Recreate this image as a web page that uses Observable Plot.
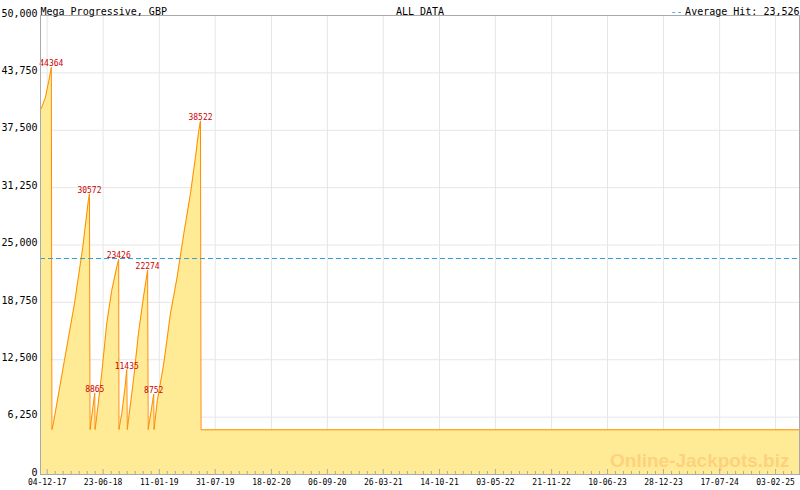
<!DOCTYPE html>
<html>
<head>
<meta charset="utf-8">
<script src="https://cdn.jsdelivr.net/npm/d3@7"></script>
<script src="https://cdn.jsdelivr.net/npm/@observablehq/plot@0.6"></script>
<style>
  html, body { margin: 0; padding: 0; background: #fff; }
  #chart { width: 800px; height: 490px; }
</style>
</head>
<body>
<div id="chart"></div>
<script>
// ---- data ----
const titleText = "Mega Progressive, GBP";
const rangeText = "ALL DATA";
const avgLabel = "Average Hit: 23,526";
const avgHit = 23526;
const watermark = "Online-Jackpots.biz";

const xLabels = ["04-12-17","23-06-18","11-01-19","31-07-19","18-02-20","06-09-20","26-03-21",
                 "14-10-21","03-05-22","21-11-22","10-06-23","28-12-23","17-07-24","03-02-25"];
const yTicks = [0, 6250, 12500, 18750, 25000, 31250, 37500, 43750, 50000];
const xDomain = ["2017-11-10", "2025-04-30"];

const dates = [
  "2017-11-13","2017-11-28","2017-12-10","2017-12-19",
  "2017-12-21","2017-12-26","2018-02-04","2018-03-12","2018-04-11","2018-05-01","2018-05-05",
  "2018-05-07","2018-05-24",
  "2018-05-25","2018-05-28","2018-06-18","2018-07-06","2018-07-24","2018-08-11","2018-08-18",
  "2018-08-19","2018-08-29","2018-09-10","2018-09-16",
  "2018-09-18","2018-09-22","2018-10-10","2018-10-28","2018-11-15","2018-11-29","2018-11-30",
  "2018-12-02","2018-12-12","2018-12-22",
  "2018-12-23","2019-01-04","2019-01-27","2019-02-20","2019-03-16","2019-04-09","2019-05-03",
  "2019-05-21","2019-06-02","2019-06-08",
  "2019-06-10","2025-04-30"
];
const values = [
  39870, 41100, 42920, 44364,
  4900, 5520, 12420, 18590, 24760, 29850, 30572,
  4900, 8865,
  4900, 5520, 10970, 16420, 20040, 22580, 23426,
  4900, 6610, 9510, 11435,
  4900, 5880, 10240, 15330, 19310, 22040, 22274,
  4900, 6800, 8752,
  4900, 8060, 12060, 17500, 21490, 26220, 30580,
  34560, 37470, 38522,
  4870, 4870
];

// ---- derived tables ----
const series = dates.map((d, i) => ({date: new Date(d), value: values[i]}));
const peaks = series.filter((p, i) =>
  i > 0 && i < series.length - 1 &&
  p.value > series[i - 1].value && p.value > series[i + 1].value);

const parse = d3.utcParse("%d-%m-%y");
const majorDates = xLabels.map(parse);
const domain = xDomain.map(d => new Date(d));
const stepAvg = (majorDates[majorDates.length - 1] - majorDates[0]) / (majorDates.length - 1);
const minorDates = [];
for (let k = -7; k <= (majorDates.length + 1) * 7; k++) {
  if (k % 7 === 0) continue;
  const t = new Date(+majorDates[0] + stepAvg * k / 7);
  if (t > domain[0] && t < domain[1]) minorDates.push(t);
}

const innerH = 490 - 15 - 16;

const chart = Plot.plot({
  width: 800,
  height: 490,
  marginTop: 15,
  marginBottom: 16,
  marginLeft: 40,
  marginRight: 1,
  style: {fontFamily: "DejaVu Sans Mono", fontSize: "10px", background: "#fff", overflow: "visible"},
  x: {type: "utc", domain: domain},
  y: {domain: [0, 50000]},
  marks: [
    Plot.gridY(yTicks, {stroke: "#e6e6e6", strokeOpacity: 1}),
    Plot.gridX(majorDates, {stroke: "#e6e6e6", strokeOpacity: 1}),
    Plot.areaY(series, {x: "date", y: "value", fill: "#ffeb96"}),
    Plot.text([watermark], {frameAnchor: "bottom-right", dx: -10, dy: -8, lineAnchor: "bottom",
      textAnchor: "end", fontFamily: "Liberation Sans", fontWeight: "bold", fontSize: 19, fill: "#fdd27e"}),
    Plot.line(series, {x: "date", y: "value", stroke: "#ff8c00", strokeWidth: 1}),
    Plot.ruleY([avgHit], {stroke: "#2a9fd6", strokeDasharray: "5,3", strokeWidth: 1}),
    Plot.text(peaks, {x: "date", y: "value", text: d => String(d.value), lineAnchor: "bottom", dy: -1,
      fill: "#cc0000", fontSize: 8}),
    Plot.frame({stroke: "#aaaaaa"}),
    Plot.tickX(majorDates, {x: d => d, insetTop: innerH - 5, stroke: "#aaaaaa"}),
    Plot.tickX(minorDates, {x: d => d, insetTop: innerH - 3, stroke: "#aaaaaa"}),
    Plot.axisY({ticks: yTicks, tickFormat: d3.format(","), tickSize: 0, tickPadding: 3,
      fontSize: 10, dy: -2, label: null}),
    Plot.axisX({ticks: majorDates, tickFormat: d3.utcFormat("%d-%m-%y"), tickSize: 0, tickPadding: 5,
      fontSize: 8, label: null}),
    Plot.text([titleText], {frameAnchor: "top-left", dy: -8, textAnchor: "start", fontSize: 10, fill: "#000"}),
    Plot.text([rangeText], {frameAnchor: "top", dy: -8, fontSize: 10, fill: "#000"}),
    Plot.text([avgLabel], {frameAnchor: "top-right", dy: -8, dx: 0, textAnchor: "end", fontSize: 10, fill: "#000"}),
    Plot.text(["--"], {frameAnchor: "top-right", dy: -8, dx: -117, textAnchor: "end", fontSize: 10, fill: "#2a9fd6"})
  ]
});
document.getElementById("chart").appendChild(chart);
</script>
</body>
</html>
